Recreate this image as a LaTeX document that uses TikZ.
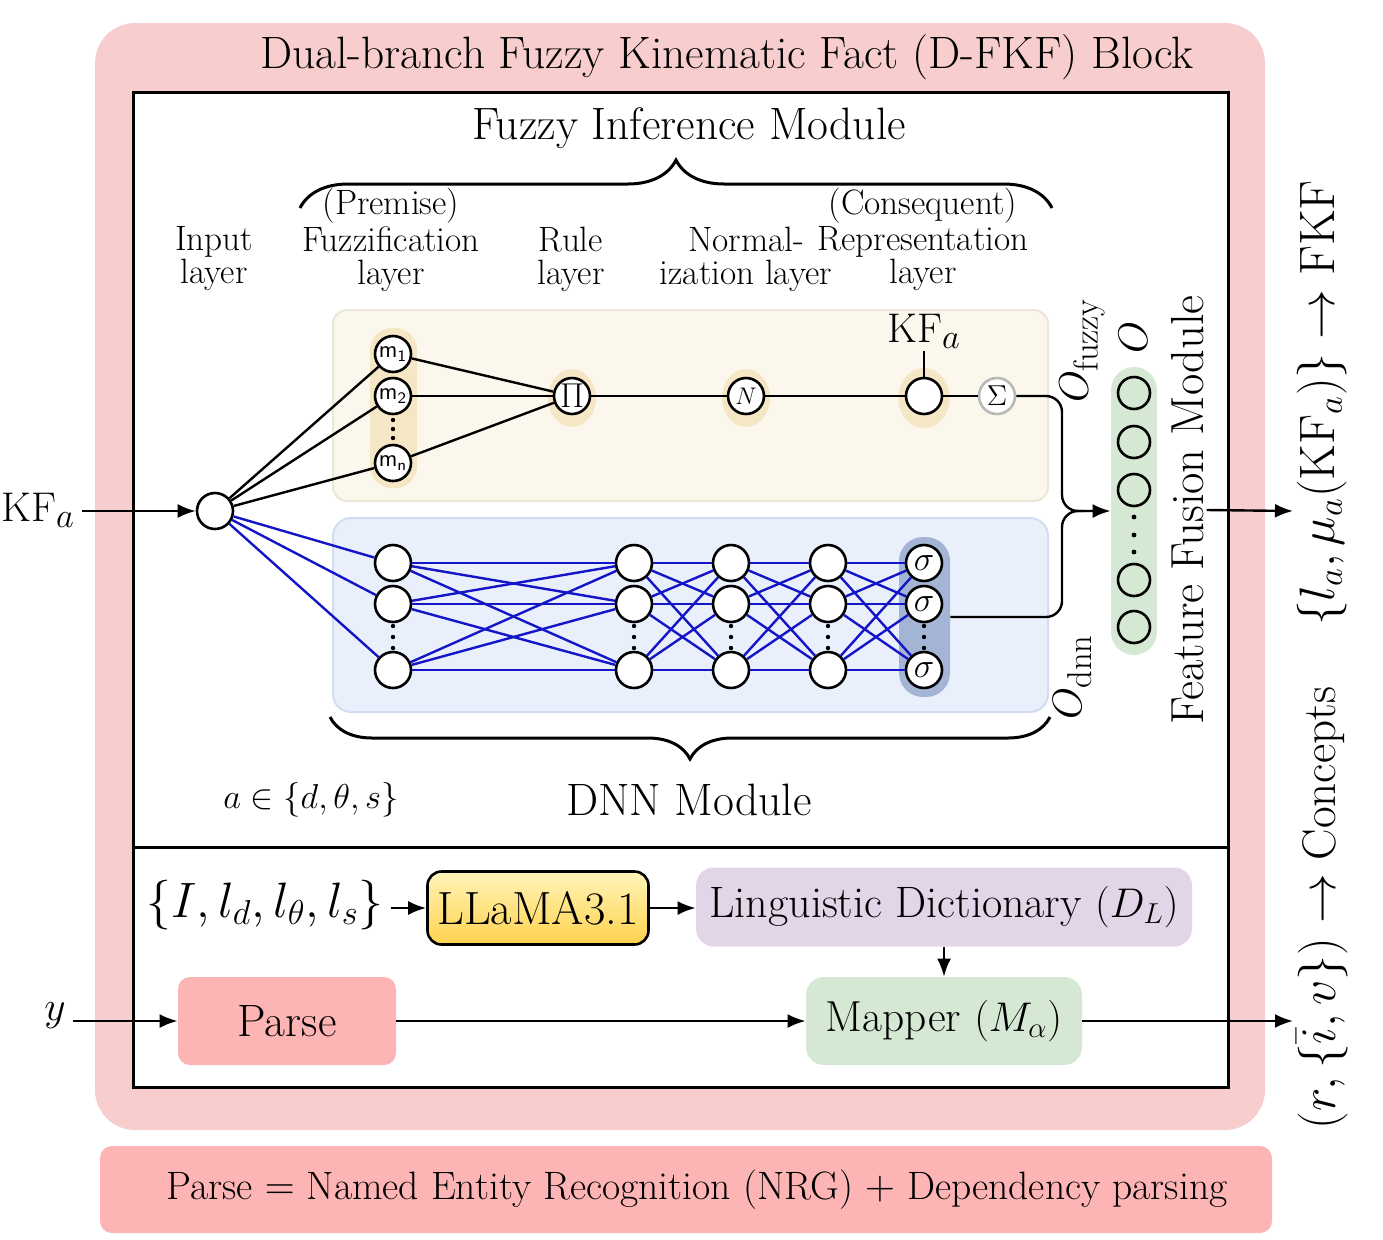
\documentclass[tikz,border=0pt]{standalone}
\usepackage{amsmath}
\usetikzlibrary{decorations.pathreplacing,arrows.meta,calc,shapes.geometric}
\definecolor{pinkbg}{HTML}{F7CDCD}
\definecolor{pinkbox}{HTML}{FDB4B4}
\definecolor{creambg}{HTML}{FBF7EC}
\definecolor{creamln}{HTML}{ECE6D6}
\definecolor{bluebg}{HTML}{E9EFFB}
\definecolor{blueln}{HTML}{D3DDF1}
\definecolor{tanhl}{HTML}{F5E7C5}
\definecolor{sighl}{HTML}{A4B4D4}
\definecolor{greenbg}{HTML}{D5E8D4}
\definecolor{purplebg}{HTML}{E1D5E7}
\definecolor{edgeblue}{HTML}{1515C8}
\definecolor{yellowtop}{HTML}{FFF4B8}
\definecolor{yellowbot}{HTML}{FFD24D}
\newcommand{\msub}[1]{{\sffamily\fontsize{12}{12}\selectfont m\textsubscript{#1}}}
\newcommand{\fsz}[1]{\fontsize{#1}{#1}\selectfont}
\begin{document}
\begin{tikzpicture}[x=0.5pt,y=-0.5pt,
  font=\fontsize{22.7}{26}\selectfont,
  >={Latex[length=9pt,width=7pt]},
  neuron/.style={circle,draw,line width=1.3pt,fill=white,minimum size=18pt,inner sep=0pt},
  fz/.style={line width=1.2pt},
  bl/.style={line width=1.2pt,draw=edgeblue},
  lab/.style={font=\fontsize{17.6}{16.5}\selectfont,align=center},
  conn/.style={line width=1.2pt,->},
  bracestyle/.style={line width=1.5pt,decorate}]
\useasboundingbox (0,0) rectangle (1383,1239);
% outer block
\fill[pinkbg, rounded corners=20pt] (95,23) rectangle (1265,1130);
\node (title) at (727,57) {Dual-branch Fuzzy Kinematic Fact (D-FKF) Block};
\draw[line width=1.5pt, fill=white] (133,92) rectangle (1228,1087);
\draw[line width=1.5pt] (133,847) -- (1228,847);
% fuzzy header
\node (fim) at (689,128) {Fuzzy Inference Module};
\draw[bracestyle, decoration={brace, amplitude=24pt}] (300,208) -- (1052,208);
\node[lab] (prem) at (391,206) {(Premise)};
\node[lab] (cons) at (923,206) {(Consequent)};
\node[lab] (l1) at (214,259) {Input\\layer};
\node[lab] (l2) at (391,259) {Fuzzification\\layer};
\node[lab] (l3) at (571,259) {Rule\\layer};
\node[lab] (l4) at (746,259) {Normal-\\ization layer};
\node[lab] (l5) at (923,259) {Representation\\layer};
% module backgrounds
\draw[creamln, fill=creambg, line width=1pt, rounded corners=7pt] (333,310) rectangle (1048,501);
\draw[blueln, fill=bluebg, line width=1pt, rounded corners=9pt] (333,518) rectangle (1048,712);
% highlights
\fill[tanhl, rounded corners=11pt] (370,328) rectangle (417,488);
\fill[tanhl] (572,398) ellipse [x radius=12pt, y radius=14.5pt];
\fill[tanhl] (746,398) ellipse [x radius=12pt, y radius=14.5pt];
\fill[tanhl] (924,398) ellipse [x radius=12.8pt, y radius=15pt];
\node[fill=sighl, rounded corners=12pt, minimum width=25.5pt, minimum height=80pt, inner sep=0pt] (sigcol) at (924.5,617) {};
\node[fill=greenbg, rounded corners=11.5pt, minimum width=23pt, minimum height=144pt, inner sep=0pt] (ffbox) at (1134,511) {};
% fuzzy nodes
\node[neuron] (in) at (215,511) {};
\node[neuron] (m1) at (393,354) {\msub{1}};
\node[neuron] (m2) at (393,396) {\msub{2}};
\node[neuron] (mn) at (393,463) {\msub{n}};
\node[neuron] (pi) at (572,396) {\fsz{16}$\Pi$};
\node[neuron] (nn) at (746,396) {\fsz{13}$N$};
\node[neuron] (rep) at (924,396) {};
\node[neuron, draw=gray!55] (sig) at (997,396) {\fsz{14}$\Sigma$};
\node[anchor=south, inner sep=1pt] (kfrep) at (924,351) {$\mathrm{KF}_a$};
\foreach \y in {420,429,438} \fill (393,\y) circle (1.1pt);
% DNN nodes
\foreach \c/\x in {1/393,2/634,3/731,4/828}
  \foreach \r/\y in {1/563,2/604,3/670}
    \node[neuron] (d\c\r) at (\x,\y) {};
\foreach \r/\y in {1/563,2/604,3/670}
  \node[neuron] (d5\r) at (924,\y) {\fsz{18}$\sigma$};
\foreach \x in {393,634,731,828,924}
  \foreach \y in {626,637,648} \fill (\x,\y) circle (1.1pt);
% DNN edges
\foreach \a/\b in {1/2,2/3,3/4,4/5}
  \foreach \i in {1,2,3}
    \foreach \j in {1,2,3}
      \draw[bl] (d\a\i) -- (d\b\j);
\foreach \j in {1,2,3} \draw[bl] (in) -- (d1\j);
% fuzzy edges
\foreach \m in {m1,m2,mn} {\draw[fz] (in) -- (\m); \draw[fz] (\m) -- (pi);}
\draw[fz] (pi) -- (nn);
\draw[fz] (nn) -- (rep);
\draw[fz] (rep) -- (sig);
\draw[fz] (rep) -- (kfrep);
% input
\node (kfin) at (38,510) {$\mathrm{KF}_a$};
\draw[conn] (kfin.east |- in) -- (in);
% fusion
\foreach \y/\n in {393/1,442/2,490/3,580/4,627/5}
  \node[circle, draw, line width=1.3pt, minimum size=16pt, inner sep=0pt] (f\n) at (1134,\y) {};
\foreach \y in {517,535,552} \fill (1134,\y) circle (1.2pt);
\node[rotate=90] (ofz) at (1082,350) {$O_{\mathrm{fuzzy}}$};
\node[rotate=90] (odnn) at (1072,677) {$O_{\mathrm{dnn}}$};
\node[rotate=90] (olab) at (1133,337) {$O$};
\draw[conn, rounded corners=8pt] (sig) -| (1062,511) -- (ffbox.west);
\draw[fz, rounded corners=8pt] (sigcol.east) -| (1062,511) -- (1085,511);
\node[rotate=90, inner sep=1pt, font=\fontsize{23.2}{26}\selectfont] (ffm) at (1188,510) {Feature Fusion Module};
\coordinate (outA) at (1293,511);
\draw[conn] (ffm.south) -- (outA);
\node[rotate=90, font=\fontsize{24}{26}\selectfont] (resA) at (1322,403) {$\{l_a,\mu_a(\mathrm{KF}_a)\}\rightarrow\mathrm{FKF}$};
\node[rotate=90, font=\fontsize{23.6}{26}\selectfont] (resB) at (1322,908) {$(r,\{\bar{i},v\})\rightarrow\text{Concepts}$};
% DNN footer
\draw[bracestyle, decoration={brace, amplitude=21pt}] (1050,717) -- (330,717);
\node (dnnm) at (689,800) {DNN Module};
\node[font=\fontsize{17.8}{20}\selectfont] (aset) at (311,800) {$a\in\{d,\theta,s\}$};
% bottom part
\node[font=\fontsize{23.8}{26}\selectfont] (setI) at (265,905) {$\{I,l_d,l_\theta,l_s\}$};
\node[draw, line width=1.3pt, rounded corners=7pt, top color=yellowtop, bottom color=yellowbot, minimum width=110.5pt, minimum height=36.5pt, inner sep=0pt, font=\fontsize{23.3}{26}\selectfont] (llama) at (538,908) {LLaMA3.1};
\node[fill=purplebg, rounded corners=9pt, minimum width=248pt, minimum height=39.5pt, inner sep=0pt, font=\fontsize{22}{26}\selectfont] (dict) at (944,907) {Linguistic Dictionary $(D_L)$};
\node[fill=greenbg, rounded corners=9pt, minimum width=138pt, minimum height=44pt, inner sep=0pt, font=\fontsize{21.7}{26}\selectfont] (mapper) at (944,1021) {Mapper $(M_\alpha)$};
\node[fill=pinkbox, rounded corners=6pt, minimum width=109pt, minimum height=44pt, inner sep=0pt] (parse) at (287,1021) {Parse};
\node (ylab) at (55,1016) {$y$};
\coordinate (outB) at (1293,1021);
\draw[conn] (setI.east |- llama.west) -- (llama.west);
\draw[conn] (llama.east) -- (dict.west |- llama.east);
\draw[conn] (dict.south) -- (mapper.north);
\draw[conn] (ylab.east |- parse.west) -- (parse.west);
\draw[conn] (parse.east) -- (mapper.west);
\draw[conn] (mapper.east) -- (outB);
% note
\node[fill=pinkbox, rounded corners=6pt, minimum width=586pt, minimum height=43.5pt, inner sep=0pt, font=\fontsize{19.8}{24}\selectfont] (note) at (686,1189.5) {\hspace{11pt}Parse $=$ Named Entity Recognition (NRG) $+$ Dependency parsing};
\end{tikzpicture}
\end{document}
